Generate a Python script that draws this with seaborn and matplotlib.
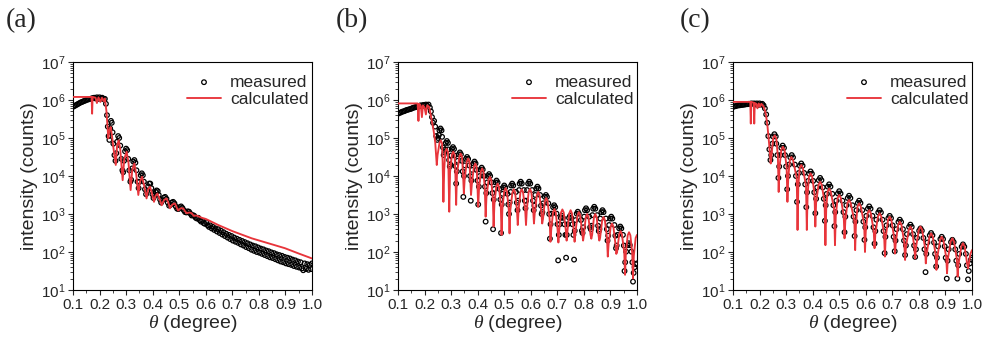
import matplotlib
matplotlib.use("Agg")
import numpy as np
import matplotlib.pyplot as plt
from matplotlib.ticker import LogLocator, MultipleLocator, LogFormatterSciNotation, NullFormatter
import seaborn as sns

# --- panel (a): theta (deg) and log10(intensity / counts) ---
meas_a_theta = [
    0.100, 0.105, 0.110, 0.115, 0.120, 0.125, 0.130, 0.135, 0.140, 0.145, 0.150, 0.155, 0.160, 0.165,
    0.170, 0.175, 0.180, 0.185, 0.190, 0.195, 0.200, 0.205, 0.210, 0.215, 0.220, 0.224, 0.228, 0.231,
    0.234, 0.237, 0.240, 0.243, 0.246, 0.249, 0.252, 0.256, 0.260, 0.263, 0.266, 0.270, 0.274, 0.278,
    0.282, 0.286, 0.289, 0.292, 0.296, 0.300, 0.304, 0.308, 0.312, 0.316, 0.319, 0.323, 0.327, 0.331,
    0.335, 0.339, 0.343, 0.347, 0.351, 0.355, 0.359, 0.363, 0.367, 0.371, 0.375, 0.379, 0.383, 0.387,
    0.391, 0.395, 0.399, 0.403, 0.407, 0.411, 0.415, 0.419, 0.423, 0.428, 0.432, 0.437, 0.442, 0.447,
    0.452, 0.457, 0.462, 0.467, 0.472, 0.477, 0.482, 0.487, 0.492, 0.497, 0.502, 0.507, 0.512, 0.517,
    0.522, 0.527, 0.532, 0.537, 0.542, 0.547, 0.552, 0.557, 0.562, 0.567, 0.572, 0.577, 0.582, 0.587,
    0.592, 0.597, 0.602, 0.607, 0.612, 0.617, 0.622, 0.627, 0.632, 0.637, 0.642, 0.647, 0.652, 0.657,
    0.662, 0.667, 0.672, 0.677, 0.682, 0.687, 0.692, 0.697, 0.702, 0.707, 0.712, 0.717, 0.722, 0.727,
    0.732, 0.737, 0.742, 0.747, 0.752, 0.757, 0.762, 0.767, 0.772, 0.777, 0.782, 0.787, 0.792, 0.797,
    0.802, 0.807, 0.812, 0.817, 0.822, 0.827, 0.832, 0.837, 0.842, 0.847, 0.852, 0.857, 0.862, 0.867,
    0.872, 0.877, 0.882, 0.887, 0.892, 0.897, 0.902, 0.907, 0.912, 0.917, 0.922, 0.927, 0.932, 0.937,
    0.942, 0.947, 0.952, 0.957, 0.962, 0.967, 0.972, 0.977, 0.982, 0.987, 0.992, 0.997, 1.000,
]
meas_a_log = [
    5.82, 5.84, 5.86, 5.88, 5.90, 5.92, 5.94, 5.95, 5.97, 5.98, 6.00, 6.01, 6.02, 6.03,
    6.04, 6.05, 6.06, 6.04, 6.07, 6.03, 6.07, 6.04, 6.06, 6.02, 6.03, 5.90, 5.60, 5.30,
    5.05, 4.95, 5.25, 5.45, 5.40, 5.15, 4.85, 4.55, 4.40, 4.60, 4.90, 5.05, 5.00, 4.80,
    4.45, 4.15, 4.10, 4.40, 4.65, 4.72, 4.68, 4.45, 4.15, 3.85, 3.90, 4.20, 4.38, 4.42,
    4.35, 4.15, 3.85, 3.68, 3.85, 4.02, 4.07, 4.02, 3.85, 3.65, 3.52, 3.60, 3.73, 3.80,
    3.80, 3.68, 3.52, 3.42, 3.48, 3.58, 3.62, 3.60, 3.50, 3.38, 3.30, 3.36, 3.43, 3.45,
    3.40, 3.30, 3.22, 3.24, 3.30, 3.32, 3.28, 3.20, 3.14, 3.13, 3.18, 3.20, 3.16, 3.10,
    3.05, 3.04, 3.07, 3.06, 3.01, 2.96, 2.97, 2.95, 2.90, 2.88, 2.90, 2.84, 2.80, 2.82,
    2.76, 2.74, 2.78, 2.70, 2.66, 2.70, 2.62, 2.66, 2.58, 2.62, 2.54, 2.60, 2.50, 2.56,
    2.46, 2.52, 2.42, 2.48, 2.38, 2.45, 2.34, 2.42, 2.30, 2.38, 2.27, 2.35, 2.24, 2.32,
    2.20, 2.29, 2.17, 2.26, 2.13, 2.23, 2.10, 2.20, 2.06, 2.17, 2.03, 2.15, 2.00, 2.12,
    1.98, 2.09, 1.95, 2.07, 1.92, 2.04, 1.89, 2.02, 1.86, 1.99, 1.84, 1.97, 1.81, 1.94,
    1.78, 1.92, 1.75, 1.90, 1.73, 1.87, 1.70, 1.85, 1.68, 1.83, 1.66, 1.80, 1.63, 1.78,
    1.61, 1.75, 1.59, 1.73, 1.57, 1.52, 1.70, 1.55, 1.68, 1.53, 1.66, 1.55, 1.70,
]
calc_a_theta = [
    0.100, 0.170, 0.172, 0.174, 0.185, 0.190, 0.196, 0.203, 0.209, 0.215, 0.220, 0.226, 0.230, 0.233,
    0.237, 0.242, 0.247, 0.252, 0.261, 0.266, 0.272, 0.278, 0.287, 0.293, 0.302, 0.309, 0.317, 0.323,
    0.331, 0.338, 0.346, 0.352, 0.360, 0.368, 0.377, 0.383, 0.390, 0.397, 0.405, 0.411, 0.418, 0.426,
    0.434, 0.443, 0.452, 0.459, 0.465, 0.474, 0.484, 0.490, 0.496, 0.505, 0.515, 0.522, 0.528, 0.538,
    0.547, 0.555, 0.565, 0.575, 0.585, 0.600, 0.647, 0.700, 0.773, 0.850, 0.898, 0.950, 1.000,
]
calc_a_log = [
    6.08, 6.08, 5.64, 6.08, 6.06, 5.92, 6.07, 5.95, 6.06, 5.97, 6.04, 5.70, 5.30, 4.99,
    5.20, 5.29, 5.05, 4.75, 4.29, 4.80, 4.94, 4.70, 3.89, 4.45, 4.64, 4.35, 3.63, 4.15,
    4.33, 4.05, 3.50, 3.85, 3.98, 3.75, 3.41, 3.65, 3.72, 3.55, 3.32, 3.48, 3.54, 3.40,
    3.23, 3.37, 3.41, 3.30, 3.15, 3.25, 3.28, 3.18, 3.09, 3.15, 3.15, 3.07, 3.02, 3.04,
    3.02, 2.95, 2.96, 2.93, 2.90, 2.87, 2.71, 2.55, 2.36, 2.20, 2.10, 1.96, 1.83,
]

# --- panel (b) ---
meas_b_theta = [
    0.100, 0.105, 0.110, 0.115, 0.120, 0.125, 0.130, 0.135, 0.140, 0.145, 0.150, 0.155, 0.160, 0.165,
    0.170, 0.175, 0.180, 0.185, 0.190, 0.195, 0.200, 0.205, 0.210, 0.215, 0.220,
    0.224, 0.228, 0.232, 0.236, 0.240, 0.244,
    0.248, 0.2505, 0.254, 0.256, 0.260, 0.264, 0.266, 0.2695,
    0.272, 0.2745, 0.278, 0.280, 0.284, 0.288, 0.289, 0.2925,
    0.295, 0.2975, 0.301, 0.303, 0.307, 0.311, 0.313, 0.3165,
    0.319, 0.3215, 0.325, 0.329, 0.333, 0.337, 0.340, 0.3435,
    0.346, 0.3485, 0.352, 0.356, 0.360, 0.364, 0.368, 0.3715,
    0.374, 0.3765, 0.380, 0.384, 0.388, 0.392, 0.396, 0.3995,
    0.402, 0.4045, 0.408, 0.411, 0.415, 0.419, 0.424, 0.4275,
    0.430, 0.4325, 0.436, 0.439, 0.443, 0.447, 0.452, 0.4555,
    0.458, 0.4605, 0.464, 0.467, 0.471, 0.475, 0.482, 0.4855,
    0.488, 0.4905, 0.494, 0.496, 0.500, 0.504, 0.512, 0.5155,
    0.518, 0.5205, 0.524, 0.526, 0.530, 0.534, 0.544, 0.5475,
    0.550, 0.5525, 0.556, 0.558, 0.562, 0.566, 0.574, 0.5775,
    0.580, 0.5825, 0.586, 0.590, 0.594, 0.598, 0.605, 0.6085,
    0.611, 0.6135, 0.617, 0.621, 0.625, 0.629, 0.635, 0.6385,
    0.641, 0.6435, 0.647, 0.653, 0.657, 0.661, 0.666, 0.6695,
    0.672, 0.6745, 0.678, 0.684, 0.688, 0.692, 0.697, 0.7005,
    0.703, 0.7055, 0.709, 0.713, 0.717, 0.721, 0.727, 0.7305,
    0.733, 0.7355, 0.739, 0.744, 0.748, 0.752, 0.757, 0.7605,
    0.763, 0.7655, 0.769, 0.773, 0.777, 0.781, 0.789, 0.7925,
    0.795, 0.7975, 0.801, 0.804, 0.808, 0.812, 0.820, 0.8235,
    0.826, 0.8285, 0.832, 0.835, 0.839, 0.843, 0.850, 0.8535,
    0.856, 0.8585, 0.862, 0.866, 0.870, 0.874, 0.883, 0.8865,
    0.889, 0.8915, 0.895, 0.899, 0.903, 0.907, 0.915, 0.9185,
    0.921, 0.9235, 0.927, 0.933, 0.937, 0.941, 0.947, 0.9505,
    0.953, 0.9555, 0.959, 0.965, 0.969, 0.973, 0.979, 0.9825,
    0.985, 0.9875, 0.991, 0.995, 1.000,
]
meas_b_log = [
    5.64, 5.66, 5.67, 5.69, 5.70, 5.71, 5.73, 5.74, 5.75, 5.76, 5.77, 5.79, 5.80, 5.81,
    5.82, 5.83, 5.84, 5.86, 5.84, 5.87, 5.85, 5.88, 5.85, 5.88, 5.80,
    5.70, 5.55, 5.40, 5.45, 5.30, 5.05,
    4.95, 5.00, 5.08, 5.20, 5.25, 5.20, 5.03, 4.75,
    4.55, 4.62, 4.70, 4.87, 4.92, 4.87, 4.70, 4.42,
    4.25, 4.30, 4.54, 4.71, 4.76, 4.71, 4.54, 4.26,
    3.80, 4.12, 4.40, 4.57, 4.62, 4.57, 4.40, 4.12,
    3.45, 4.00, 4.28, 4.45, 4.50, 4.45, 4.28, 4.00,
    3.35, 3.88, 4.16, 4.33, 4.38, 4.33, 4.16, 3.88,
    3.25, 3.72, 4.00, 4.17, 4.22, 4.17, 4.00, 3.72,
    2.80, 3.55, 3.83, 4.00, 4.05, 4.00, 3.83, 3.55,
    2.60, 3.38, 3.66, 3.83, 3.88, 3.83, 3.66, 3.38,
    2.50, 3.25, 3.53, 3.70, 3.75, 3.70, 3.53, 3.25,
    3.00, 3.30, 3.58, 3.75, 3.80, 3.75, 3.58, 3.30,
    3.10, 3.35, 3.63, 3.80, 3.85, 3.80, 3.63, 3.35,
    3.15, 3.35, 3.63, 3.80, 3.85, 3.80, 3.63, 3.35,
    3.10, 3.22, 3.50, 3.67, 3.72, 3.67, 3.50, 3.22,
    3.00, 3.05, 3.28, 3.45, 3.50, 3.45, 3.28, 3.00,
    2.35, 2.73, 3.01, 3.18, 3.23, 3.18, 3.01, 2.73,
    1.78, 2.45, 2.73, 2.90, 2.95, 2.90, 2.73, 2.45,
    1.85, 2.45, 2.73, 2.90, 2.95, 2.90, 2.73, 2.45,
    1.80, 2.56, 2.84, 3.01, 3.06, 3.01, 2.84, 2.56,
    2.50, 2.65, 2.93, 3.10, 3.15, 3.10, 2.93, 2.65,
    2.60, 2.69, 2.97, 3.14, 3.19, 3.14, 2.97, 2.69,
    2.55, 2.60, 2.88, 3.05, 3.10, 3.05, 2.88, 2.60,
    2.30, 2.43, 2.71, 2.88, 2.93, 2.88, 2.71, 2.43,
    2.10, 2.17, 2.45, 2.62, 2.67, 2.62, 2.45, 2.17,
    1.50, 1.73, 2.01, 2.18, 2.23, 2.18, 2.01, 1.73,
    1.22, 1.45, 1.60, 1.68, 1.70,
]
calc_b_theta = [
    0.100, 0.174, 0.177, 0.180, 0.186, 0.190, 0.194, 0.200, 0.205, 0.210, 0.217, 0.223, 0.228, 0.234,
    0.240, 0.243,
    0.246, 0.249, 0.256, 0.261, 0.266, 0.268,
    0.271, 0.274, 0.278, 0.283, 0.288, 0.290,
    0.293, 0.296, 0.303, 0.308, 0.313, 0.316,
    0.319, 0.322, 0.331, 0.336, 0.341, 0.345,
    0.348, 0.351, 0.359, 0.364, 0.369, 0.372,
    0.375, 0.378, 0.386, 0.391, 0.396, 0.399,
    0.402, 0.405, 0.412, 0.417, 0.422, 0.427,
    0.430, 0.433, 0.441, 0.446, 0.451, 0.457,
    0.460, 0.463, 0.470, 0.475, 0.480, 0.487,
    0.490, 0.493, 0.500, 0.505, 0.510, 0.517,
    0.520, 0.523, 0.531, 0.536, 0.541, 0.548,
    0.551, 0.554, 0.561, 0.566, 0.571, 0.579,
    0.582, 0.585, 0.592, 0.597, 0.602, 0.609,
    0.612, 0.615, 0.623, 0.628, 0.633, 0.640,
    0.643, 0.646, 0.653, 0.658, 0.663, 0.671,
    0.674, 0.677, 0.684, 0.689, 0.694, 0.701,
    0.704, 0.707, 0.714, 0.719, 0.724, 0.732,
    0.735, 0.738, 0.745, 0.750, 0.755, 0.762,
    0.765, 0.768, 0.776, 0.781, 0.786, 0.794,
    0.797, 0.800, 0.807, 0.812, 0.817, 0.825,
    0.828, 0.831, 0.838, 0.843, 0.848, 0.855,
    0.858, 0.861, 0.869, 0.874, 0.879, 0.887,
    0.890, 0.893, 0.901, 0.906, 0.911, 0.919,
    0.922, 0.925, 0.933, 0.938, 0.943, 0.952,
    0.955, 0.958, 0.965, 0.970, 0.975, 0.982,
    0.985, 0.988, 0.995, 1.000,
]
calc_b_log = [
    5.91, 5.91, 5.45, 5.90, 5.84, 5.55, 5.86, 5.80, 5.62, 5.86, 5.82, 5.62, 5.42, 5.20,
    4.90, 4.60,
    4.29, 4.55, 4.86, 4.94, 4.86, 4.39,
    3.32, 4.17, 4.64, 4.72, 4.64, 4.17,
    3.06, 4.09, 4.56, 4.64, 4.56, 4.09,
    3.24, 4.04, 4.51, 4.59, 4.51, 4.04,
    3.54, 3.91, 4.38, 4.46, 4.38, 3.91,
    3.50, 3.78, 4.25, 4.33, 4.25, 3.78,
    3.19, 3.65, 4.12, 4.20, 4.12, 3.65,
    2.93, 3.43, 3.90, 3.98, 3.90, 3.43,
    2.67, 3.25, 3.72, 3.80, 3.72, 3.25,
    2.45, 3.13, 3.60, 3.68, 3.60, 3.13,
    2.49, 3.10, 3.57, 3.65, 3.57, 3.10,
    2.71, 3.10, 3.57, 3.65, 3.57, 3.10,
    2.71, 3.11, 3.58, 3.66, 3.58, 3.11,
    2.75, 3.03, 3.50, 3.58, 3.50, 3.03,
    2.75, 2.87, 3.34, 3.42, 3.34, 2.87,
    2.27, 2.58, 3.05, 3.13, 3.05, 2.58,
    2.25, 2.57, 3.04, 3.12, 3.04, 2.57,
    2.30, 2.55, 3.02, 3.10, 3.02, 2.55,
    2.27, 2.50, 2.97, 3.05, 2.97, 2.50,
    2.30, 2.45, 2.92, 3.00, 2.92, 2.45,
    2.35, 2.45, 2.92, 3.00, 2.92, 2.45,
    2.30, 2.37, 2.84, 2.92, 2.84, 2.37,
    1.88, 2.20, 2.67, 2.75, 2.67, 2.20,
    1.95, 2.00, 2.47, 2.55, 2.47, 2.00,
    1.40, 1.97, 2.44, 2.52, 2.44, 1.97,
    1.30, 1.90, 2.37, 2.45,
]

# --- panel (c) ---
meas_c_theta = [
    0.100, 0.105, 0.110, 0.115, 0.120, 0.125, 0.130, 0.135, 0.140, 0.145, 0.150, 0.155, 0.160, 0.165,
    0.170, 0.175, 0.180, 0.185, 0.190, 0.195, 0.200, 0.205, 0.210, 0.215, 0.220,
    0.225, 0.229, 0.233, 0.237,
    0.241, 0.244, 0.248, 0.251, 0.256, 0.261, 0.263, 0.267,
    0.271, 0.274, 0.278, 0.282, 0.287, 0.292, 0.296, 0.300,
    0.304, 0.307, 0.311, 0.316, 0.321, 0.326, 0.333, 0.337,
    0.341, 0.344, 0.348, 0.352, 0.357, 0.362, 0.368, 0.372,
    0.376, 0.379, 0.383, 0.387, 0.392, 0.397, 0.402, 0.406,
    0.410, 0.413, 0.417, 0.423, 0.428, 0.433, 0.438, 0.442,
    0.446, 0.449, 0.453, 0.457, 0.462, 0.467, 0.474, 0.478,
    0.482, 0.485, 0.489, 0.495, 0.500, 0.505, 0.512, 0.516,
    0.520, 0.523, 0.527, 0.532, 0.537, 0.542, 0.550, 0.554,
    0.558, 0.561, 0.565, 0.570, 0.575, 0.580, 0.587, 0.591,
    0.595, 0.598, 0.602, 0.608, 0.613, 0.618, 0.625, 0.629,
    0.633, 0.636, 0.640, 0.647, 0.652, 0.657, 0.663, 0.667,
    0.671, 0.674, 0.678, 0.685, 0.690, 0.695, 0.701, 0.705,
    0.709, 0.712, 0.716, 0.723, 0.728, 0.733, 0.740, 0.744,
    0.748, 0.751, 0.755, 0.763, 0.768, 0.773, 0.778, 0.782,
    0.786, 0.789, 0.793, 0.801, 0.806, 0.811, 0.817, 0.821,
    0.825, 0.828, 0.832, 0.841, 0.846, 0.851, 0.857, 0.861,
    0.865, 0.868, 0.872, 0.881, 0.886, 0.891, 0.897, 0.901,
    0.905, 0.908, 0.912, 0.921, 0.926, 0.931, 0.937, 0.941,
    0.945, 0.948, 0.952, 0.961, 0.966, 0.971, 0.977, 0.981,
    0.985, 0.988, 0.992, 0.996, 1.000,
]
meas_c_log = [
    5.82, 5.83, 5.84, 5.85, 5.86, 5.86, 5.87, 5.87, 5.88, 5.88, 5.89, 5.89, 5.90, 5.90,
    5.91, 5.90, 5.91, 5.88, 5.91, 5.87, 5.91, 5.88, 5.90, 5.86, 5.78,
    5.62, 5.40, 5.05, 4.70,
    4.42, 4.55, 4.85, 5.04, 5.10, 5.04, 4.85, 4.55,
    3.95, 4.25, 4.55, 4.74, 4.80, 4.74, 4.55, 4.25,
    3.65, 4.00, 4.30, 4.49, 4.55, 4.49, 4.30, 4.00,
    3.32, 3.78, 4.08, 4.27, 4.33, 4.27, 4.08, 3.78,
    3.18, 3.57, 3.87, 4.06, 4.12, 4.06, 3.87, 3.57,
    3.02, 3.40, 3.70, 3.89, 3.95, 3.89, 3.70, 3.40,
    2.82, 3.23, 3.53, 3.72, 3.78, 3.72, 3.53, 3.23,
    2.68, 3.05, 3.35, 3.54, 3.60, 3.54, 3.35, 3.05,
    2.52, 2.93, 3.23, 3.42, 3.48, 3.42, 3.23, 2.93,
    2.42, 2.80, 3.10, 3.29, 3.35, 3.29, 3.10, 2.80,
    2.32, 2.65, 2.95, 3.14, 3.20, 3.14, 2.95, 2.65,
    2.22, 2.55, 2.85, 3.04, 3.10, 3.04, 2.85, 2.55,
    1.97, 2.40, 2.70, 2.89, 2.95, 2.89, 2.70, 2.40,
    2.02, 2.30, 2.60, 2.79, 2.85, 2.79, 2.60, 2.30,
    1.92, 2.17, 2.47, 2.66, 2.72, 2.66, 2.47, 2.17,
    1.87, 2.07, 2.37, 2.56, 2.62, 2.56, 2.37, 2.07,
    1.47, 1.95, 2.25, 2.44, 2.50, 2.44, 2.25, 1.95,
    1.62, 1.85, 2.15, 2.34, 2.40, 2.34, 2.15, 1.85,
    1.30, 1.77, 2.07, 2.26, 2.32, 2.26, 2.07, 1.77,
    1.30, 1.65, 1.95, 2.14, 2.20, 2.14, 1.95, 1.65,
    1.28, 1.50, 1.70, 1.80, 1.85,
]
calc_c_theta = [
    0.100, 0.165, 0.167, 0.169, 0.178, 0.180, 0.182, 0.188, 0.192, 0.197, 0.202, 0.207, 0.212, 0.218,
    0.224, 0.230, 0.236,
    0.242, 0.245, 0.251, 0.257, 0.263, 0.269,
    0.272, 0.275, 0.282, 0.288, 0.294, 0.302,
    0.305, 0.308, 0.314, 0.320, 0.326, 0.340,
    0.343, 0.346, 0.351, 0.357, 0.363, 0.375,
    0.378, 0.381, 0.386, 0.392, 0.398, 0.407,
    0.410, 0.413, 0.422, 0.428, 0.434, 0.445,
    0.448, 0.451, 0.456, 0.462, 0.468, 0.481,
    0.484, 0.487, 0.494, 0.500, 0.506, 0.517,
    0.520, 0.523, 0.531, 0.537, 0.543, 0.557,
    0.560, 0.563, 0.569, 0.575, 0.581, 0.594,
    0.597, 0.600, 0.607, 0.613, 0.619, 0.630,
    0.633, 0.636, 0.646, 0.652, 0.658, 0.669,
    0.672, 0.675, 0.684, 0.690, 0.696, 0.707,
    0.710, 0.713, 0.722, 0.728, 0.734, 0.745,
    0.748, 0.751, 0.762, 0.768, 0.774, 0.783,
    0.786, 0.789, 0.800, 0.806, 0.812, 0.823,
    0.826, 0.829, 0.840, 0.846, 0.852, 0.863,
    0.866, 0.869, 0.880, 0.886, 0.892, 0.903,
    0.906, 0.909, 0.920, 0.926, 0.932, 0.943,
    0.946, 0.949, 0.960, 0.966, 0.972, 0.982,
    0.985, 0.988, 0.994, 1.000,
]
calc_c_log = [
    5.95, 5.95, 5.38, 5.95, 5.93, 5.38, 5.92, 5.90, 5.78, 5.91, 5.82, 5.90, 5.86, 5.78,
    5.62, 5.30, 4.85,
    4.33, 4.52, 4.99, 5.07, 4.99, 4.52,
    3.58, 4.22, 4.69, 4.77, 4.69, 4.22,
    3.32, 3.95, 4.42, 4.50, 4.42, 3.95,
    2.58, 3.74, 4.21, 4.29, 4.21, 3.74,
    2.58, 3.52, 3.99, 4.07, 3.99, 3.52,
    2.67, 3.30, 3.77, 3.85, 3.77, 3.30,
    2.18, 3.12, 3.59, 3.67, 3.59, 3.12,
    2.18, 2.95, 3.42, 3.50, 3.42, 2.95,
    2.36, 2.82, 3.29, 3.37, 3.29, 2.82,
    2.05, 2.73, 3.20, 3.28, 3.20, 2.73,
    2.00, 2.55, 3.02, 3.10, 3.02, 2.55,
    2.10, 2.47, 2.94, 3.02, 2.94, 2.47,
    1.88, 2.38, 2.85, 2.93, 2.85, 2.38,
    1.96, 2.25, 2.72, 2.80, 2.72, 2.25,
    1.79, 2.12, 2.59, 2.67, 2.59, 2.12,
    1.83, 2.12, 2.59, 2.67, 2.59, 2.12,
    1.70, 1.94, 2.41, 2.49, 2.41, 1.94,
    1.53, 1.85, 2.32, 2.40, 2.32, 1.85,
    1.44, 1.81, 2.28, 2.36, 2.28, 1.81,
    1.35, 1.68, 2.15, 2.23, 2.15, 1.68,
    1.57, 1.70, 1.95, 2.05,
]

panel_labels = ["(a)", "(b)", "(c)"]
x_ticks = [0.1, 0.2, 0.3, 0.4, 0.5, 0.6, 0.7, 0.8, 0.9, 1.0]

sns.set_style("ticks")
plt.rcParams["font.family"] = ["Liberation Sans", "DejaVu Sans"]
plt.rcParams["mathtext.fontset"] = "custom"
plt.rcParams["mathtext.rm"] = "Liberation Sans"
plt.rcParams["mathtext.it"] = "Liberation Serif:italic"
plt.rcParams["axes.linewidth"] = 0.8

red = "#e8353b"

fig = plt.figure(figsize=(9.86, 3.43), dpi=100)
lefts = [73 / 986, 398 / 986, 733 / 986]
label_x = [6 / 986, 336 / 986, 680 / 986]

panels = [
    (meas_a_theta, meas_a_log, calc_a_theta, calc_a_log),
    (meas_b_theta, meas_b_log, calc_b_theta, calc_b_log),
    (meas_c_theta, meas_c_log, calc_c_theta, calc_c_log),
]

for i, (mt, ml, ct, cl) in enumerate(panels):
    ax = fig.add_axes([lefts[i], 53 / 343, 239 / 986, 228 / 343])
    sns.scatterplot(x=mt, y=10 ** np.array(ml), ax=ax, marker="o", s=11,
                    facecolors="none", edgecolor="black", linewidth=0.9,
                    label="measured", zorder=2)
    sns.lineplot(x=ct, y=10 ** np.array(cl), ax=ax, color=red, linewidth=1.35,
                 sort=False, estimator=None, label="calculated", zorder=3)

    ax.set_yscale("log")
    ax.set_xlim(0.1, 1.0)
    ax.set_ylim(10, 1e7)
    ax.set_xticks(x_ticks)
    ax.set_xticklabels([f"{t:.1f}" for t in x_ticks])
    ax.xaxis.set_minor_locator(MultipleLocator(0.05))
    ax.yaxis.set_major_locator(LogLocator(base=10, numticks=10))
    ax.yaxis.set_major_formatter(LogFormatterSciNotation())
    ax.yaxis.set_minor_locator(LogLocator(base=10, subs=np.arange(2, 10), numticks=20))
    ax.yaxis.set_minor_formatter(NullFormatter())
    ax.tick_params(which="major", direction="out", length=3.5, width=0.8, labelsize=11, pad=2)
    ax.tick_params(which="minor", direction="out", length=2, width=0.6)
    for sp in ax.spines.values():
        sp.set_color("black")

    ax.set_xlabel(r"$\it{\theta}$ (degree)", fontsize=14, labelpad=1)
    ax.set_ylabel("intensity (counts)", fontsize=14, labelpad=2)

    ax.legend(loc="upper right", bbox_to_anchor=(1.0, 0.96), frameon=False,
              fontsize=12.5, handlelength=2.0, handletextpad=0.5, labelspacing=0.1,
              borderaxespad=0.0, borderpad=0.2, scatterpoints=1)

    fig.text(label_x[i], 1 - 8 / 343, panel_labels[i], fontsize=20,
             family="Liberation Serif", va="top", ha="left")

fig.savefig("out.png", dpi=100)
